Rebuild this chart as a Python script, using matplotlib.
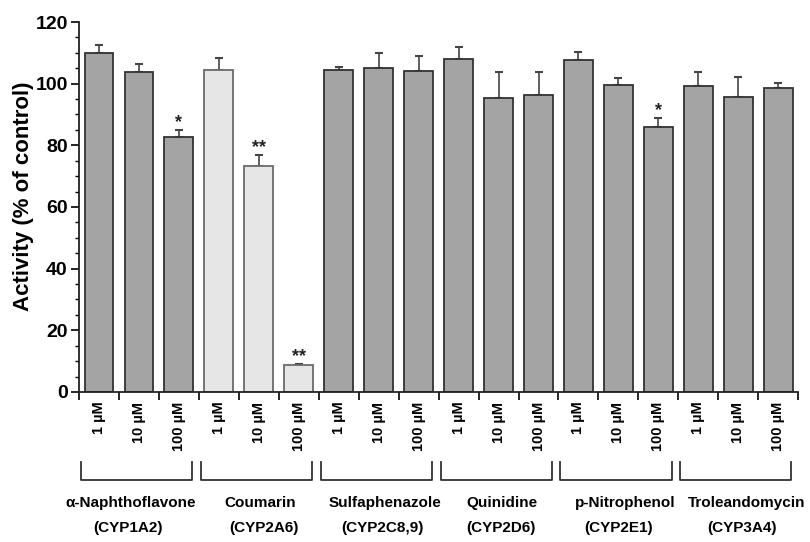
import numpy as np
import matplotlib.pyplot as plt
from matplotlib.ticker import MultipleLocator, FixedLocator
from matplotlib.transforms import blended_transform_factory

plt.rcParams['font.family'] = ['Liberation Sans', 'DejaVu Sans']
plt.rcParams['font.weight'] = 'bold'

# data (activity as % of control, upper SD)
inhibitors = ["\u03b1-Naphthoflavone", "Coumarin", "Sulfaphenazole",
              "Quinidine", "p-Nitrophenol", "Troleandomycin"]
enzymes = ["(CYP1A2)", "(CYP2A6)", "(CYP2C8,9)", "(CYP2D6)", "(CYP2E1)", "(CYP3A4)"]
doses = ["1 \u00b5M", "10 \u00b5M", "100 \u00b5M"]
activity = [110.1, 103.9, 82.7,
            104.3, 73.2, 8.9,
            104.3, 105.1, 104.2,
            108.0, 95.5, 96.3,
            107.8, 99.7, 86.1,
            99.3, 95.8, 98.5]
sd = [2.6, 2.6, 2.3,
      4.0, 3.8, 0.3,
      1.1, 4.7, 4.9,
      3.9, 8.3, 7.5,
      2.5, 2.0, 2.8,
      4.6, 6.3, 1.7]
signif = ["", "", "*",
          "", "**", "**",
          "", "", "",
          "", "", "",
          "", "", "*",
          "", "", ""]
highlight_group = 1  # coumarin bars drawn light

n = len(activity)
x = np.arange(n)
fig = plt.figure(figsize=(8.1, 5.42), dpi=100)
ax = fig.add_axes([0.0975, 0.2768, 0.888, 0.6826])

colors = []
edges = []
for i in range(n):
    if i // 3 == highlight_group:
        colors.append("#e6e6e6")
        edges.append("#6a6a6a")
    else:
        colors.append("#a4a4a4")
        edges.append("#333333")

ax.bar(x, activity, width=0.72, color=colors, edgecolor=edges, linewidth=1.3, zorder=2)
ax.errorbar(x, activity, yerr=[np.zeros(n), sd], fmt="none", ecolor="#444444",
            elinewidth=1.2, capsize=3, capthick=1.5, zorder=1)

for i in range(n):
    if signif[i]:
        ax.text(x[i], activity[i] + sd[i] + 0.8, signif[i], ha="center", va="baseline",
                fontsize=13, color="#222222")

ax.set_xlim(-0.5, n - 0.5)
ax.set_ylim(0, 120)
ax.yaxis.set_major_locator(MultipleLocator(20))
ax.yaxis.set_minor_locator(MultipleLocator(5))
ax.tick_params(axis="y", which="major", length=6, width=1.2, labelsize=14, pad=2)
ax.tick_params(axis="y", which="minor", length=3, width=1.0)

ax.set_xticks(x)
ax.set_xticklabels([doses[i % 3] for i in range(n)], rotation=90, fontsize=10.5)
ax.xaxis.set_minor_locator(FixedLocator(np.arange(-0.5, n, 1.0)))
ax.tick_params(axis="x", which="major", length=0, pad=7)
ax.tick_params(axis="x", which="minor", length=6, width=1.2)

for s in ["top", "right"]:
    ax.spines[s].set_visible(False)
for s in ["left", "bottom"]:
    ax.spines[s].set_linewidth(1.3)
    ax.spines[s].set_color("#222222")

ax.set_ylabel("Activity (% of control)", fontsize=16, fontweight="bold")
ax.yaxis.set_label_coords(-0.0625, 0.53)

# group brackets and labels below the axis
tr = blended_transform_factory(ax.transData, fig.transFigure)
y_top = 1 - 462 / 542
y_bot = 1 - 480 / 542
name_shift = [-0.2, 0.04, 0.15, 0.08, 0.18, 0.2]
enz_shift = [-0.28, 0.13, 0.1, 0.05, 0.0, 0.08]
for g in range(len(inhibitors)):
    x0 = g * 3 - 0.45
    x1 = g * 3 + 2.33
    ax.plot([x0, x0, x1, x1], [y_top, y_bot, y_bot, y_top], color="#333333",
            linewidth=1.3, transform=tr, clip_on=False)
    ax.text(g * 3 + 1 + name_shift[g], 1 - 503 / 542, inhibitors[g], transform=tr,
            ha="center", va="center", fontsize=11)
    ax.text(g * 3 + 1 + enz_shift[g], 1 - 528 / 542, enzymes[g], transform=tr,
            ha="center", va="center", fontsize=11)

fig.savefig("out.png", dpi=100)
